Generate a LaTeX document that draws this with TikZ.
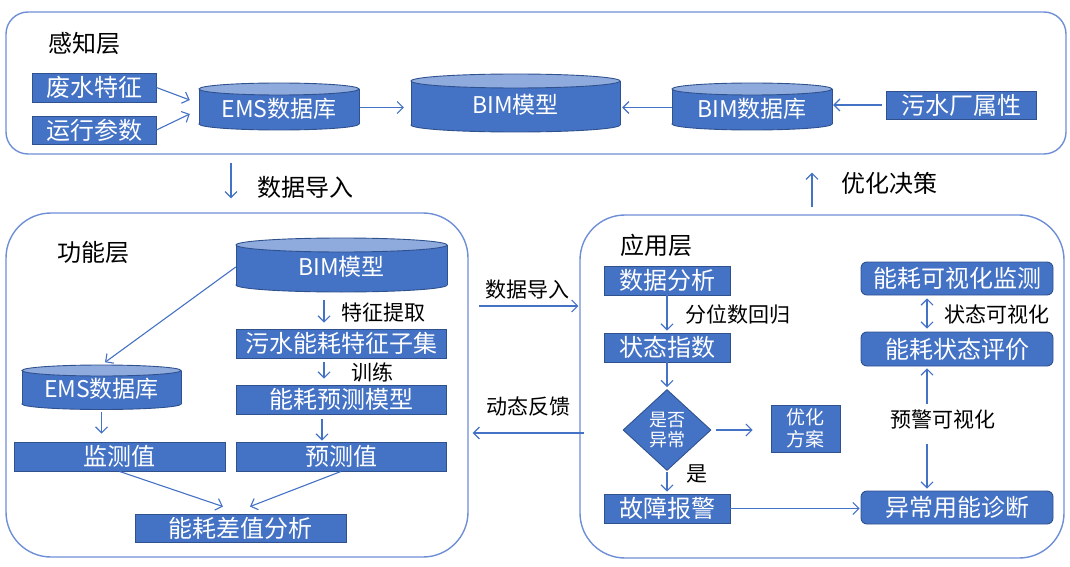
\documentclass[tikz,border=0pt]{standalone}
\usepackage{fontspec}
\setmainfont{Noto Sans CJK SC}
\usetikzlibrary{arrows.meta,shapes.geometric,calc}
\definecolor{boxblue}{HTML}{4472C4}
\definecolor{bordblue}{HTML}{2F528F}
\definecolor{cyltop}{HTML}{8FAADC}
\definecolor{contblue}{HTML}{6E8FD6}
\definecolor{arrblue}{HTML}{4472C4}
\tikzset{
  box/.style={draw=bordblue, fill=boxblue, text=white, line width=0.9pt, inner sep=0pt,
    font=\fontsize{24}{28}\selectfont},
  rbox/.style={box, rounded corners=6pt},
  cyltext/.style={text=white, inner sep=0pt, font=\fontsize{23}{27}\selectfont},
  lbl/.style={text=black, inner sep=2pt, font=\fontsize{21}{24}\selectfont},
  ttl/.style={text=black, inner sep=2pt, font=\fontsize{24}{28}\selectfont},
  cont/.style={draw=contblue, line width=1.4pt, fill=none},
  arr/.style={draw=arrblue, line width=1.1pt, -{Straight Barb[length=6pt,width=12pt]}},
  darr/.style={draw=arrblue, line width=1.1pt, {Straight Barb[length=6pt,width=12pt]}-{Straight Barb[length=6pt,width=12pt]}},
  cylbord/.style={draw=bordblue, line width=0.9pt}
}
% name, cx, ytop, ybot, halfwidth, ry, text
\newcommand\mycyl[7]{%
  \draw[cylbord, fill=boxblue] (#2,#4) ellipse [x radius=#5pt, y radius=#6pt];
  \fill[boxblue] (#2-#5,#3) rectangle (#2+#5,#4);
  \draw[cylbord] (#2-#5,#3) -- (#2-#5,#4) (#2+#5,#3) -- (#2+#5,#4);
  \draw[cylbord, fill=cyltop] (#2,#3) ellipse [x radius=#5pt, y radius=#6pt];
  \node[cyltext, minimum width={2*#5*1pt}, minimum height={(#4-#3)*1pt}] (#1) at (#2,{(#3+#4)/2+2}) {#7};
}
\begin{document}
\begin{tikzpicture}[x=1pt,y=-1pt]
\useasboundingbox (0,0) rectangle (1070,567);

% containers
\node[cont, rounded corners=22pt, minimum width=1060pt, minimum height=142pt] (percbox) at (536,83) {};
\node[cont, rounded corners=45pt, minimum width=462pt, minimum height=344pt] (funcbox) at (237,385) {};
\node[cont, rounded corners=45pt, minimum width=484pt, minimum height=343pt] (appbox) at (822,386.5) {};

% ---------- perception layer ----------
\node[ttl] (tPerc) at (84,43) {感知层};
\node[box, minimum width=124pt, minimum height=29pt] (fs) at (94,87.5) {废水特征};
\node[box, minimum width=124pt, minimum height=28pt] (yx) at (94,130) {运行参数};
\mycyl{ems}{279}{89}{124}{80}{6}{EMS数据库}
\mycyl{bim}{515.5}{81}{125}{104.5}{7}{BIM模型}
\mycyl{bimdb}{752}{89}{124}{80}{6}{BIM数据库}
\node[box, minimum width=150pt, minimum height=28pt] (wsc) at (961,105) {污水厂属性};

\draw[arr] (fs.east) -- ($(ems.west)+(-9,-8.5)$);
\draw[arr] (yx.east) -- ($(ems.west)+(-9,5.5)$);
\draw[arr, shorten <=1pt, shorten >=7pt] ($(ems.east)+(0,-1)$) -- ($(ems.east -| bim.west)+(0,-1)$);
\draw[arr, shorten >=2pt] ($(bimdb.west)+(0,-1)$) -- ($(bimdb.west -| bim.east)+(0,-1)$);
\draw[arr, shorten <=4pt, shorten >=1pt] (wsc.west) -- (wsc.west -| bimdb.east);

% ---------- between layers ----------
\coordinate (c1) at (231,0);
\coordinate (c2) at (812,0);
\coordinate (m1) at (0,306);
\coordinate (m2) at (0,433);
\draw[arr, shorten <=8pt, shorten >=14pt] (percbox.south -| c1) -- (funcbox.north -| c1);
\node[ttl] (lImport) at (305,187) {数据导入};
\draw[arr, shorten <=7pt, shorten >=18pt] (appbox.north -| c2) -- (percbox.south -| c2);
\node[ttl] (lDecide) at (889,183) {优化决策};
\draw[arr, shorten <=10pt, shorten >=1pt] (funcbox.east |- m1) -- (appbox.west |- m1);
\node[lbl] (lImport2) at (527,290) {数据导入};
\draw[arr, shorten <=-5pt, shorten >=4pt] (appbox.west |- m2) -- (funcbox.east |- m2);
\node[lbl] (lFeed) at (528,407) {动态反馈};

% ---------- function layer ----------
\node[ttl] (tFunc) at (93,252) {功能层};
\mycyl{fbim}{341.5}{245}{285}{105.5}{7}{BIM模型}
\mycyl{fems}{101.5}{370.5}{404}{79.5}{5.5}{EMS数据库}
\node[box, minimum width=210pt, minimum height=29pt] (tz) at (341,343.5) {污水能耗特征子集};
\node[box, minimum width=210pt, minimum height=29pt] (ycm) at (341,399.5) {能耗预测模型};
\node[box, minimum width=211pt, minimum height=29pt] (jcz) at (119.5,456.5) {监测值};
\node[box, minimum width=210pt, minimum height=29pt] (ycz) at (341,456.5) {预测值};
\node[box, minimum width=211pt, minimum height=28pt] (cz) at (240.5,528) {能耗差值分析};
\coordinate (colF) at (324,0);
\draw[arr] ($(fbim.west)+(0,0)$) -- ($(fems.north)+(3.5,-10)$);
\draw[arr, shorten <=13pt, shorten >=6pt] (fbim.south -| colF) -- (tz.north -| colF);
\node[lbl] (lFeat) at (383,313) {特征提取};
\draw[arr, shorten <=4pt, shorten >=6pt] (tz.south -| colF) -- (ycm.north -| colF);
\node[lbl] (lTrain) at (372,372) {训练};
\draw[arr, shorten <=5pt, shorten >=1pt] ($(ycm.south -| colF)+(-2,0)$) -- ($(ycz.north -| colF)+(-2,0)$);
\draw[arr, shorten <=6pt, shorten >=8pt] (fems.south) -- (jcz.north -| fems.south);
\draw[arr] (jcz.south) -- ($(cz.north)+(-17.5,-7)$);
\draw[arr] (ycz.south) -- ($(cz.north)+(9.5,-7)$);

% ---------- application layer ----------
\node[ttl] (tApp) at (656,245) {应用层};
\node[box, minimum width=126pt, minimum height=29pt] (sjfx) at (667,280.5) {数据分析};
\node[box, minimum width=126pt, minimum height=29pt] (ztzs) at (667,347.5) {状态指数};
\node[diamond, draw=bordblue, fill=boxblue, line width=0.9pt, text=white, inner sep=0pt,
      minimum width=88pt, minimum height=81pt, aspect=1.086,
      font=\fontsize{18}{20}\selectfont, align=center] (dia) at (667,430) {是否\\异常};
\node[box, minimum width=69pt, minimum height=47pt, align=center,
      font=\fontsize{19}{22}\selectfont] (yhfa) at (805.5,428.5) {优化\\方案};
\node[box, minimum width=126pt, minimum height=29pt] (gzbj) at (667,508.5) {故障报警};
\node[rbox, minimum width=192pt, minimum height=33pt] (nh1) at (957,278.5) {能耗可视化监测};
\node[rbox, minimum width=192pt, minimum height=34pt] (nh2) at (957,349) {能耗状态评价};
\node[rbox, minimum width=192pt, minimum height=33pt] (ycyn) at (957,507.5) {异常用能诊断};

\draw[arr, shorten >=2pt] (sjfx.south) -- (ztzs.north);
\node[lbl] (lQuant) at (738,314) {分位数回归};
\draw[arr, shorten >=2pt] (ztzs.south) -- (dia.north);
\draw[arr, shorten <=5pt, shorten >=18pt] (dia.east) -- (dia.east -| yhfa.west);
\draw[arr, shorten <=1pt, shorten >=2pt] (dia.south) -- (gzbj.north);
\node[lbl] (lYes) at (697,474) {是};
\draw[arr, shorten >=1pt] (gzbj.east) -- (gzbj.east -| ycyn.west);

\coordinate (colA) at (927,0);
\draw[darr, shorten <=3pt, shorten >=3pt] (nh1.south -| colA) -- (nh2.north -| colA);
\node[lbl] (lState) at (997,314) {状态可视化};
\node[lbl] (lWarn) at (943,420) {预警可视化};
\draw[arr, shorten <=4pt, shorten >=2pt] (lWarn.north -| colA) -- (nh2.south -| colA);
\draw[arr, shorten <=12pt, shorten >=2pt] (lWarn.south -| colA) -- (ycyn.north -| colA);
\end{tikzpicture}
\end{document}
